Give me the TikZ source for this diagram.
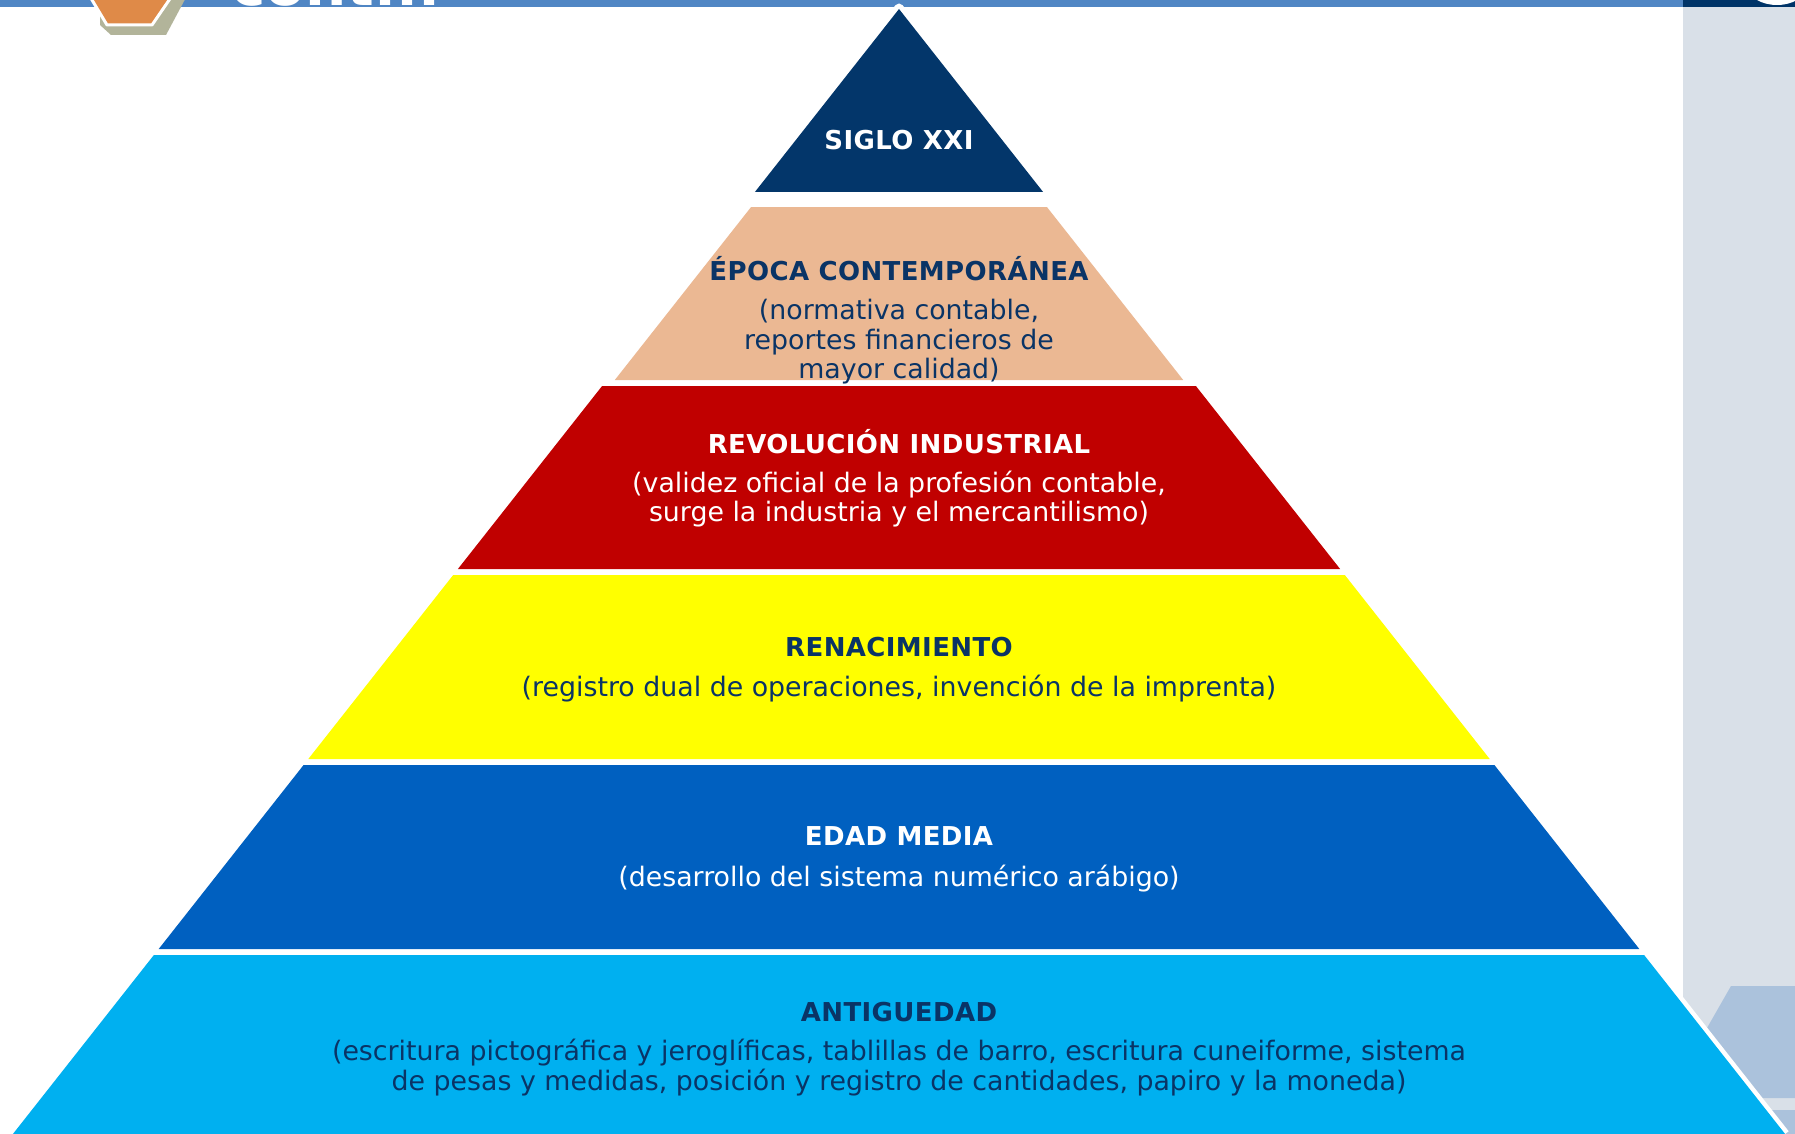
\documentclass[tikz,border=0pt]{standalone}
\usepackage{fontspec}
\setmainfont{DejaVu Sans}
\newfontfamily\titlefont[LetterSpace=1.5]{DejaVu Sans}
\definecolor{barblue}{RGB}{80,134,196}
\definecolor{barnavy}{RGB}{0,52,104}
\definecolor{panelgrey}{RGB}{217,224,232}
\definecolor{hexblue}{RGB}{171,194,220}
\definecolor{decoorange}{RGB}{223,138,72}
\definecolor{decoolive}{RGB}{178,180,154}
\definecolor{lnavy}{RGB}{3,54,106}
\definecolor{lpeach}{RGB}{235,184,147}
\definecolor{lred}{RGB}{192,0,0}
\definecolor{lyellow}{RGB}{255,255,0}
\definecolor{lblue}{RGB}{0,96,192}
\definecolor{lcyan}{RGB}{0,176,240}
\definecolor{txtnavy}{RGB}{10,52,102}
\begin{document}
\begin{tikzpicture}[x=1pt,y=-1pt,
  title/.style={font=\titlefont\fontsize{26}{30}\selectfont\bfseries, anchor=base, inner sep=0pt},
  body/.style={font=\fontsize{26.8}{30}\selectfont, anchor=base, inner sep=0pt},
  layer/.style={draw=none}]
\useasboundingbox (0,0) rectangle (1795,1134);
\clip (0,0) rectangle (1795,1134);
% background
\fill[white] (0,0) rectangle (1795,1134);
% right panel
\fill[panelgrey] (1683,0) rectangle (1795,1134);
\fill[hexblue] (1731,986) -- (1800,986) -- (1800,1098) -- (1731,1098) -- (1699,1042) -- cycle;
\fill[hexblue] (1731,1110) -- (1800,1110) -- (1800,1140) -- (1720,1140) -- cycle;
% top bar
\fill[barblue] (0,0) rectangle (1683,7);
\fill[barnavy] (1683,0) rectangle (1795,7);
\fill[white] (1777,-12) ellipse [x radius=28, y radius=17];
% top-left decoration
\fill[decoolive] (100,-10) -- (190,-10) -- (166,35) -- (111,35) -- (100,25) -- cycle;
\filldraw[fill=decoorange, draw=white, line width=3, line join=round] (86,-10) -- (176,-10) -- (152,25) -- (107,25) -- cycle;
\node[font=\fontsize{58}{60}\selectfont\bfseries, text=white, anchor=base, inner sep=0pt] (ttl) at (336,6) {cont...};
% pyramid outer white outline
\draw[white, line width=9, line join=round] (12.9,1134) -- (899,8) -- (1785.1,1134);
% layers
\fill[lnavy] (899,9) -- (1043.1,192) -- (754.9,192) -- cycle;
\fill[lpeach] (751.1,207) -- (1046.9,207) -- (1183.2,380) -- (614.8,380) -- cycle;
\fill[lred] (602.1,386) -- (1195.9,386) -- (1340.1,569) -- (457.9,569) -- cycle;
\fill[lyellow] (453.2,575) -- (1344.8,575) -- (1489.7,759) -- (308.3,759) -- cycle;
\fill[lblue] (303.6,765) -- (1494.4,765) -- (1639.3,949) -- (158.7,949) -- cycle;
\fill[lcyan] (153.9,955) -- (1644.1,955) -- (1785.1,1134) -- (12.9,1134) -- cycle;
% texts
\node[title, text=white] (t1) at (899,150) {SIGLO XXI};

\node[title, text=txtnavy] (t2) at (899,280) {ÉPOCA CONTEMPORÁNEA};
\node[body, text=txtnavy] (b2a) at (899,319) {(normativa contable,};
\node[body, text=txtnavy] (b2b) at (899,349) {reportes financieros de};
\node[body, text=txtnavy] (b2c) at (899,378) {mayor calidad)};

\node[title, text=white] (t3) at (899,453) {REVOLUCIÓN INDUSTRIAL};
\node[body, text=white] (b3a) at (899,492) {(validez oficial de la profesión contable,};
\node[body, text=white] (b3b) at (899,521) {surge la industria y el mercantilismo)};

\node[title, text=txtnavy] (t4) at (899,656) {RENACIMIENTO};
\node[body, text=txtnavy] (b4a) at (899,696) {(registro dual de operaciones, invención de la imprenta)};

\node[title, text=white] (t5) at (899,845) {EDAD MEDIA};
\node[body, text=white] (b5a) at (899,886) {(desarrollo del sistema numérico arábigo)};

\node[title, text=txtnavy] (t6) at (899,1021) {ANTIGUEDAD};
\node[body, text=txtnavy] (b6a) at (899,1060) {(escritura pictográfica y jeroglíficas, tablillas de barro, escritura cuneiforme, sistema};
\node[body, text=txtnavy] (b6b) at (899,1090) {de pesas y medidas, posición y registro de cantidades, papiro y la moneda)};
\end{tikzpicture}
\end{document}
